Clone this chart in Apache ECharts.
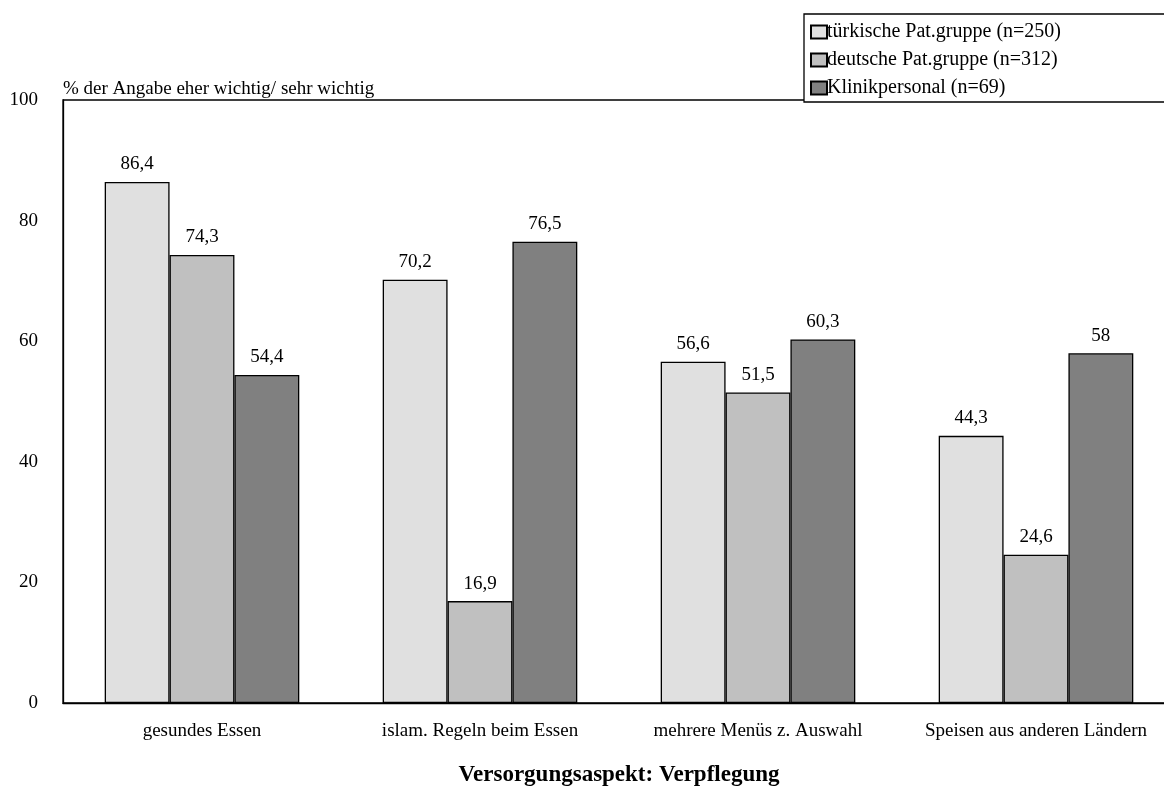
<!DOCTYPE html>
<html>
<head>
<meta charset="utf-8">
<script src="https://cdn.jsdelivr.net/npm/echarts@6/dist/echarts.min.js"></script>
<style>
  html, body { margin: 0; padding: 0; background: #fff; }
  #chart { width: 1164px; height: 786px; }
</style>
</head>
<body>
<div id="chart"></div>
<script>
// Categories along the x axis
const categories = [
  'gesundes Essen',
  'islam. Regeln beim Essen',
  'mehrere Menüs z. Auswahl',
  'Speisen aus anderen Ländern'
];

// Series names (legend entries)
const seriesNames = [
  'türkische Pat.gruppe (n=250)',
  'deutsche Pat.gruppe (n=312)',
  'Klinikpersonal (n=69)'
];

// Percentages per group
const tuerkisch = [86.4, 70.2, 56.6, 44.3];
const deutsch = [74.3, 16.9, 51.5, 24.6];
const personal = [54.4, 76.5, 60.3, 58];

// Y axis ticks
const yTicks = [0, 20, 40, 60, 80, 100];

const fills = ['#e0e0e0', '#c0c0c0', '#808080'];
const serif = 'Liberation Serif, Times New Roman, serif';

const chart = echarts.init(document.getElementById('chart'), null, { renderer: 'canvas' });

function barSeries(name, data, color) {
  return {
    name: name,
    type: 'bar',
    data: data,
    barGap: '0%',
    barCategoryGap: '30%',
    itemStyle: { color: color, borderColor: '#000', borderWidth: 1.3 },
    label: {
      show: true,
      position: 'top',
      distance: 8,
      color: '#000',
      fontFamily: serif,
      fontSize: 19,
      formatter: p => String(p.value).replace('.', ',')
    },
    emphasis: { disabled: true }
  };
}

chart.setOption({
  animation: false,
  backgroundColor: '#fff',
  textStyle: { fontFamily: serif, color: '#000' },
  grid: {
    left: 63, top: 100, width: 1112, height: 603,
    outerBoundsMode: 'none',
    containLabel: false,
    show: true, borderColor: '#000', borderWidth: 1.3, backgroundColor: 'transparent'
  },
  legend: {
    orient: 'vertical',
    left: 804, top: 14,
    data: seriesNames,
    icon: 'rect',
    itemWidth: 16, itemHeight: 13,
    itemGap: 8,
    padding: [8, 200, 4, 6],
    borderColor: '#000', borderWidth: 1.3,
    backgroundColor: '#fff',
    textStyle: { fontFamily: serif, fontSize: 20, color: '#000', padding: [0, 0, 0, -5] },
    selectedMode: false
  },
  xAxis: {
    type: 'category',
    data: categories,
    axisLine: { show: true, lineStyle: { color: '#000', width: 1.3 } },
    axisTick: { show: false },
    axisLabel: { interval: 0, fontFamily: serif, fontSize: 19, color: '#000', margin: 19 },
    name: 'Versorgungsaspekt: Verpflegung',
    nameLocation: 'middle',
    nameGap: 61,
    nameTextStyle: { fontFamily: serif, fontSize: 23, fontWeight: 'bold', color: '#000' }
  },
  yAxis: {
    type: 'value',
    min: yTicks[0],
    max: yTicks[yTicks.length - 1],
    interval: yTicks[1] - yTicks[0],
    splitLine: { show: false },
    axisLine: { show: true, lineStyle: { color: '#000', width: 1.3 } },
    axisTick: { show: false },
    axisLabel: { fontFamily: serif, fontSize: 19, color: '#000', margin: 25 },
    name: '% der Angabe eher wichtig/ sehr wichtig',
    nameLocation: 'end',
    nameGap: 1,
    nameTextStyle: { fontFamily: serif, fontSize: 19, color: '#000', align: 'left' }
  },
  series: [
    barSeries(seriesNames[0], tuerkisch, fills[0]),
    barSeries(seriesNames[1], deutsch, fills[1]),
    barSeries(seriesNames[2], personal, fills[2])
  ]
});
</script>
</body>
</html>
